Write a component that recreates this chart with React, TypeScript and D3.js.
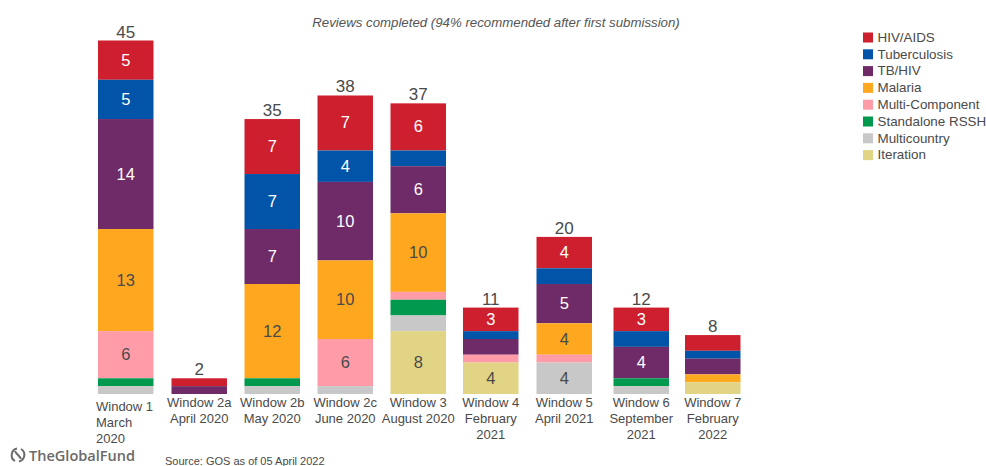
import React from "react";
import * as d3 from "d3";

const W = 986, H = 466;
const seriesNames = ["HIV/AIDS","Tuberculosis","TB/HIV","Malaria","Multi-Component","Standalone RSSH","Multicountry","Iteration"];
const colors = ["#cd1f2e","#0254a8","#6f2a68","#ffa81f","#ff9ca8","#00994d","#c8c8c8","#e1d585"];
const textDark = "#4a4a4a";
const windows = ["W1","W2a","W2b","W2c","W3","W4","W5","W6","W7"];
const labelLines = [["Window 1","March","2020"],["Window 2a","April 2020"],["Window 2b","May 2020"],["Window 2c","June 2020"],["Window 3","August 2020"],["Window 4","February","2021"],["Window 5","April 2021"],["Window 6","September","2021"],["Window 7","February","2022"]];
const totals = [45,2,35,38,37,11,20,12,8];
const hivAids = [5,1,7,7,6,3,4,3,2];
const tuberculosis = [5,0,7,4,2,1,2,2,1];
const tbHiv = [14,1,7,10,6,2,5,4,2];
const malaria = [13,0,12,10,10,0,4,0,1];
const multiComponent = [6,0,0,6,1,1,1,0,0];
const rssh = [1,0,1,0,2,0,0,1,0];
const multicountry = [1,0,1,1,2,0,4,1,0];
const iteration = [0,0,0,0,8,4,0,0,1.5];
const seriesValues = [hivAids,tuberculosis,tbHiv,malaria,multiComponent,rssh,multicountry,iteration];
const labelled = [[5,null,7,7,6,3,4,3,null],[5,null,7,4,null,null,null,null,null],[14,null,7,10,6,null,5,4,null],[13,null,12,10,10,null,4,null,null],[6,null,null,6,null,null,null,null,null],[],[null,null,null,null,null,null,4,null,null],[null,null,null,null,8,4,null,null,null]];

const barWidth = 55.5;
const x = d3.scaleOrdinal<string, number>().domain(windows).range([98,171.5,244.5,317.5,390.5,463,536.5,613.5,685]);
const y = d3.scaleLinear().domain([0,45]).range([394,40.5]);
const font = "'Liberation Sans', Arial, sans-serif";

export default function App() {
  return (
    <svg width={W} height={H} style={{position:"absolute",left:0,top:0,background:"#fff"}} fontFamily={font}>
      <text x={496} y={27} textAnchor="middle" fontSize={13.25} fontStyle="italic" fill="#555">Reviews completed (94% recommended after first submission)</text>
      {windows.map((w,i)=>{
        const cx = x(w) + barWidth/2;
        const total = seriesValues.reduce((a,s)=>a+s[i],0);
        let cum = total;
        return <g key={w}>
          {seriesValues.map((s,k)=>{
            const v = s[i];
            const top = y(cum); const bot = y(cum-v);
            cum -= v;
            if(!v) return null;
            const lab = labelled[k][i];
            const light = k<3;
            return <g key={k}>
              <rect x={x(w)} y={top} width={barWidth} height={bot-top} fill={colors[k]} />
              {lab!=null && <text x={cx} y={(top+bot)/2+5.5} textAnchor="middle" fontSize={16.5} fill={light?"#fff":textDark}>{lab}</text>}
            </g>;
          })}
          <text x={cx} y={y(total)-3} textAnchor="middle" fontSize={17} fill={textDark}>{totals[i]}</text>
          {labelLines[i].map((t,j)=>(
            i===0
            ? <text key={j} x={96} y={411+j*16} fontSize={13} fill={textDark}>{t}</text>
            : <text key={j} x={cx} y={407+j*16} textAnchor="middle" fontSize={13} fill={textDark}>{t}</text>
          ))}
        </g>;
      })}
      {seriesNames.map((n,i)=>(
        <g key={n} transform={`translate(863,${32.5+i*16.8})`}>
          <rect width={10} height={10} y={0} fill={colors[i]} />
          <text x={14.5} y={9.3} fontSize={13.4} fill={textDark}>{n}</text>
        </g>
      ))}
      <text x={165} y={465} fontSize={11} fill={textDark}>Source: GOS as of 05 April 2022</text>
      <g transform="translate(18,455)" fill="none" stroke="#6a6a6a" strokeWidth={2}>
        <path d="M-1,-6.5 A6.8,6.8 0 0 0 -3,6" />
        <path d="M1,6.5 A6.8,6.8 0 0 0 3,-6" />
        <path d="M-3,-4 C-2,-1 2,1 3,4" />
      </g>
      <text x={29} y={460.5} fontSize={14.5} fontFamily="'Open Sans', sans-serif" fontWeight={600} textLength={106} lengthAdjust="spacingAndGlyphs" fill="#6a6a6a">TheGlobalFund</text>
    </svg>
  );
}
